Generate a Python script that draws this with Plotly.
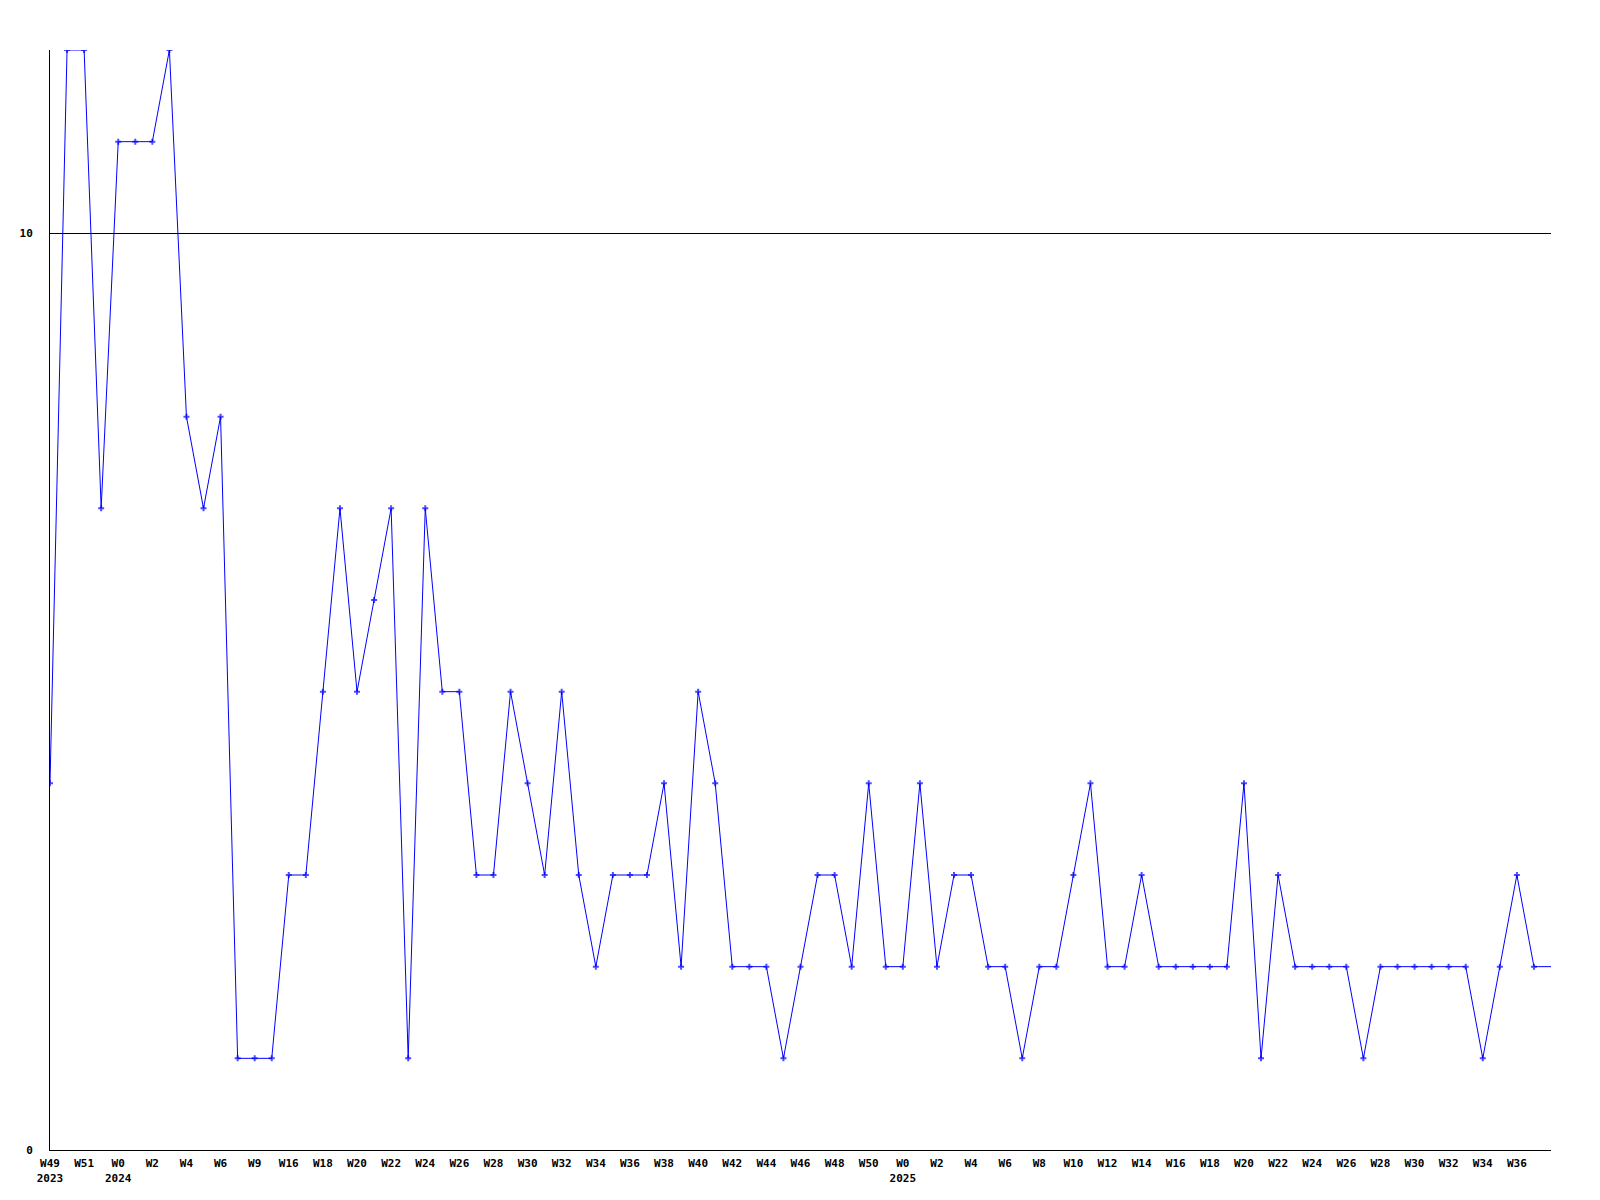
import plotly.graph_objects as go

# weekly counts, Dec 2023 -> Sep 2025
weeks = [
    "W49", "W50", "W51", "W52",
    "W0", "W1", "W2", "W3", "W4", "W5", "W6", "W8", "W9", "W15",
    "W16", "W17", "W18", "W19", "W20", "W21", "W22", "W23", "W24", "W25",
    "W26", "W27", "W28", "W29", "W30", "W31", "W32", "W33", "W34", "W35",
    "W36", "W37", "W38", "W39", "W40", "W41", "W42", "W43", "W44", "W45",
    "W46", "W47", "W48", "W49", "W50", "W51",
    "W0", "W1", "W2", "W3", "W4", "W5", "W6", "W7", "W8", "W9",
    "W10", "W11", "W12", "W13", "W14", "W15", "W16", "W17", "W18", "W19",
    "W20", "W21", "W22", "W23", "W24", "W25", "W26", "W27", "W28", "W29",
    "W30", "W31", "W32", "W33", "W34", "W35", "W36", "W37", "W38",
]
year_starts = {0: "2023", 4: "2024", 50: "2025"}
counts = [
    4, 12, 12, 7, 11, 11, 11, 12, 8, 7,
    8, 1, 1, 1, 3, 3, 5, 7, 5, 6,
    7, 1, 7, 5, 5, 3, 3, 5, 4, 3,
    5, 3, 2, 3, 3, 3, 4, 2, 5, 4,
    2, 2, 2, 1, 2, 3, 3, 2, 4, 2,
    2, 4, 2, 3, 3, 2, 2, 1, 2, 2,
    3, 4, 2, 2, 3, 2, 2, 2, 2, 2,
    4, 1, 3, 2, 2, 2, 2, 1, 2, 2,
    2, 2, 2, 2, 1, 2, 3, 2, 2,
]
y_ticks = [0, 10]

FONT = "DejaVu Sans Mono"
x = list(range(len(counts)))

# every other week gets a label (not the very last point), year under first week of a year
tickvals = x[:-1:2]
ticktext = []
for i in tickvals:
    label = weeks[i]
    if i in year_starts:
        label += "<br>" + year_starts[i]
    ticktext.append(label)

# last point has no marker, the line just runs to the edge
sizes = [5] * (len(counts) - 1) + [0]

fig = go.Figure()
fig.add_trace(
    go.Scatter(
        x=x,
        y=counts,
        mode="lines+markers",
        line=dict(color="#0000ff", width=1),
        marker=dict(symbol="cross", size=sizes, color="#0000ff", line=dict(width=0)),
        text=weeks,
        hovertemplate="%{text}: %{y}<extra></extra>",
        showlegend=False,
    )
)

# page body has an 8px default margin, so the figure is sized/offset for it
fig.update_layout(
    width=1592,
    height=1192,
    margin=dict(l=42, r=49, t=42, b=50),
    paper_bgcolor="white",
    plot_bgcolor="white",
    font=dict(family=FONT, size=11, color="black"),
    xaxis=dict(
        range=[0, len(counts) - 1],
        tickvals=tickvals,
        ticktext=ticktext,
        tickfont=dict(family=FONT, size=11, color="black", weight="bold"),
        ticklabelstandoff=3,
        showline=True,
        linecolor="black",
        linewidth=1,
        showgrid=False,
        zeroline=False,
        ticks="",
    ),
    yaxis=dict(
        range=[0, 12],
        tickvals=y_ticks,
        tickfont=dict(family=FONT, size=11, color="black", weight="bold"),
        ticklabelstandoff=14,
        showline=True,
        linecolor="black",
        linewidth=1,
        showgrid=True,
        gridcolor="black",
        gridwidth=1,
        zeroline=False,
        ticks="",
    ),
)

fig.write_html("out.html")
